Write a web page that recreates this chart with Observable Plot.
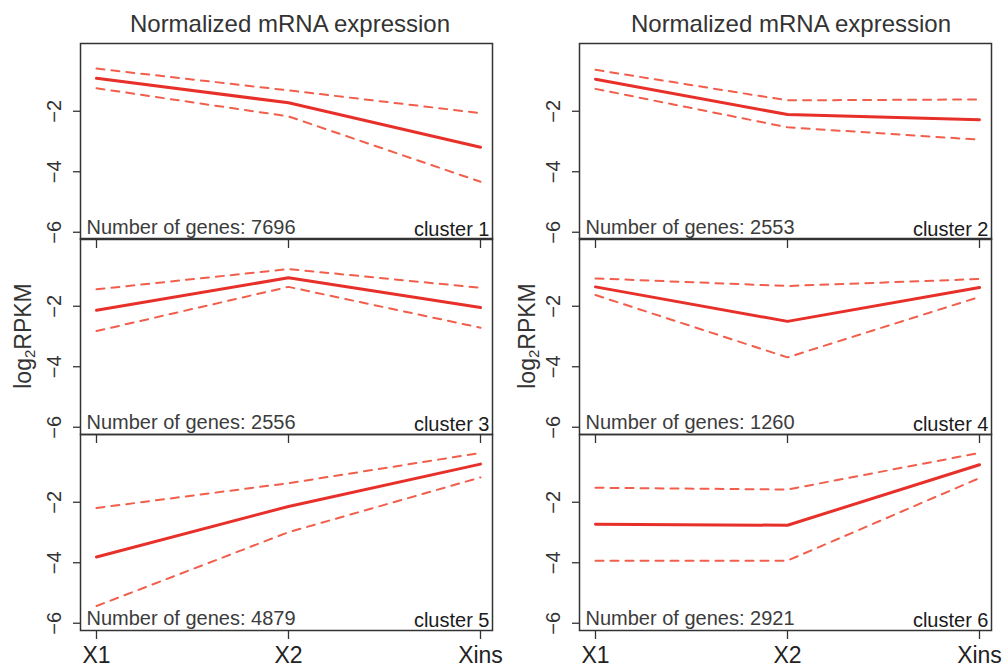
<!DOCTYPE html>
<html>
<head>
<meta charset="utf-8">
<script src="https://cdn.jsdelivr.net/npm/d3@7"></script>
<script src="https://cdn.jsdelivr.net/npm/@observablehq/plot@0.6"></script>
<style>
  html, body { margin: 0; padding: 0; background: #fff; }
  #chart { position: relative; width: 1003px; height: 670px; overflow: hidden; font-family: "Liberation Sans", Arial, Helvetica, sans-serif; }
  .panel { position: absolute; }
  .title { position: absolute; top: 10px; font-size: 24px; color: #333; white-space: nowrap; transform: translateX(-50%); }
  .ylab { position: absolute; font-size: 23px; color: #333; white-space: nowrap; transform: translate(-50%, -50%) rotate(-90deg); }
  .ylab sub { font-size: 15px; vertical-align: -4px; line-height: 0; }
</style>
</head>
<body>
<div id="chart"></div>
<script>
const timepoints = ["X1", "X2", "Xins"];
const clusterNames = ["cluster 1", "cluster 2", "cluster 3", "cluster 4", "cluster 5", "cluster 6"];
const geneCounts = [7696, 2553, 2556, 1260, 4879, 2921];
const meanExpr = [
  [-0.91, -1.72, -3.19],
  [-0.94, -2.11, -2.28],
  [-2.13, -1.06, -2.04],
  [-1.36, -2.50, -1.38],
  [-3.81, -2.14, -0.74],
  [-2.73, -2.76, -0.76]
];
const upperExpr = [
  [-0.59, -1.31, -2.06],
  [-0.63, -1.64, -1.61],
  [-1.44, -0.77, -1.39],
  [-1.08, -1.33, -1.10],
  [-2.19, -1.37, -0.37],
  [-1.52, -1.58, -0.37]
];
const lowerExpr = [
  [-1.24, -2.17, -4.33],
  [-1.26, -2.53, -2.94],
  [-2.82, -1.36, -2.71],
  [-1.63, -3.69, -1.69],
  [-5.43, -2.99, -1.18],
  [-3.93, -3.93, -1.20]
];
const yTicks = [-2, -4, -6];
const yDomain = [-6.24, 0.24];
const panelTitle = "Normalized mRNA expression";

const solidColor = "#e8302a";
const dashColor = "#f15e4c";
const textColor = "#383838";

const chart = document.getElementById("chart");
const frameTops = [43, 238, 434];
const frameH = 196;
const mTop = 10;

for (let i = 0; i < 6; i++) {
  const col = i % 2, row = Math.floor(i / 2);
  const rows = timepoints.map((t, j) => ({t, mean: meanExpr[i][j], upper: upperExpr[i][j], lower: lowerExpr[i][j]}));
  const mBottom = row === 2 ? 40 : 14;
  const plot = Plot.plot({
    width: 502,
    height: mTop + frameH + mBottom,
    marginLeft: 80,
    marginRight: 10,
    marginTop: mTop,
    marginBottom: mBottom,
    style: {background: "transparent", overflow: "visible", fontFamily: "'Liberation Sans', Arial, sans-serif", color: textColor},
    x: {type: "point", domain: timepoints, range: [96, 480], padding: 0, axis: null},
    y: {domain: yDomain, axis: null},
    marks: [
      Plot.line(rows, {x: "t", y: "upper", stroke: dashColor, strokeWidth: 2, strokeDasharray: "8,7"}),
      Plot.line(rows, {x: "t", y: "lower", stroke: dashColor, strokeWidth: 2, strokeDasharray: "8,7"}),
      Plot.line(rows, {x: "t", y: "mean", stroke: solidColor, strokeWidth: 3}),
      Plot.frame({stroke: "#333", strokeWidth: 1.5}),
      Plot.axisY({ticks: yTicks, tickFormat: d3.format("d"), label: null, tickSize: 7, tickPadding: 13, tickRotate: -90, fontSize: 20, stroke: "#333", strokeWidth: 1.3, fill: "#333"}),
      Plot.axisX({ticks: timepoints, label: null, tickSize: 9, tickPadding: 7, fontSize: 23, stroke: "#333", strokeWidth: 1.3, fill: "#222",
        tickFormat: row === 2 ? (d => d) : (() => "")}),
      Plot.text([`Number of genes: ${geneCounts[i]}`], {frameAnchor: "bottom-left", text: d => d, textAnchor: "start", lineAnchor: "bottom", dx: 6, dy: -6, fontSize: 20, fill: "#3c3c3c"}),
      Plot.text([clusterNames[i]], {frameAnchor: "bottom-right", text: d => d, textAnchor: "end", lineAnchor: "bottom", dx: -3, dy: -4, fontSize: 20, fill: "#1a1a1a"})
    ]
  });
  plot.classList.add("panel");
  plot.style.left = (col === 0 ? 0 : 499) + "px";
  plot.style.top = (frameTops[row] - mTop) + "px";
  chart.appendChild(plot);
}

[290, 791].forEach(cx => {
  const d = document.createElement("div");
  d.className = "title";
  d.style.left = cx + "px";
  d.textContent = panelTitle;
  chart.appendChild(d);
});
[23, 527].forEach(cx => {
  const d = document.createElement("div");
  d.className = "ylab";
  d.style.left = cx + "px";
  d.style.top = "336px";
  d.innerHTML = "log<sub>2</sub>RPKM";
  chart.appendChild(d);
});
</script>
</body>
</html>
